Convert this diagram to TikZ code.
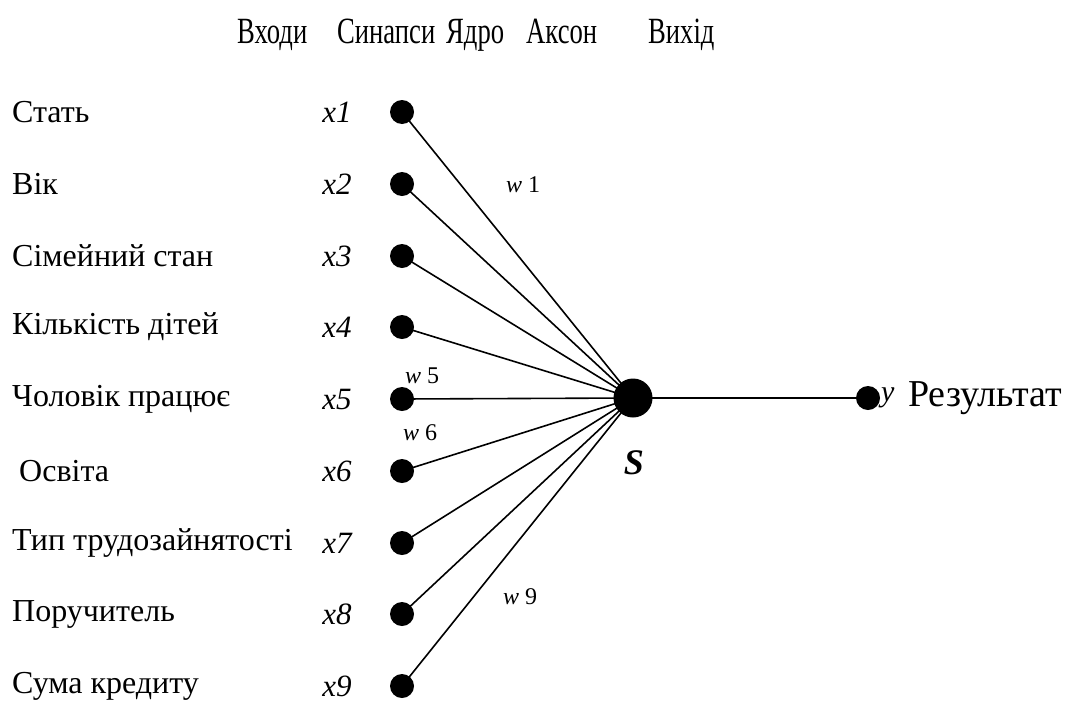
\documentclass[tikz,border=0pt]{standalone}
\usepackage{fontspec}
\setmainfont{Liberation Serif}
\newfontfamily\hdrfont[FakeStretch=0.72]{Liberation Serif}
\begin{document}
\begin{tikzpicture}[x=1pt,y=-1pt,
  dot/.style={circle,fill=black,inner sep=0pt,minimum size=24pt},
  bigdot/.style={circle,fill=black,inner sep=0pt,minimum size=39pt},
  conn/.style={line width=1.6pt},
  lbl/.style={anchor=west,inner sep=0pt,font=\fontsize{32}{36}\selectfont},
  hdr/.style={anchor=base west,inner sep=0pt,font=\hdrfont\fontsize{37}{40}\selectfont},
  xl/.style={inner sep=0pt,font=\fontsize{31}{33}\selectfont\itshape},
  wl/.style={inner sep=0pt,font=\fontsize{24}{26}\selectfont}]
\useasboundingbox (0,0) rectangle (1083,715);
% headers
\node[hdr] (h1) at (237,43) {Входи};
\node[hdr] (h2) at (337,43) {Синапси};
\node[hdr] (h3) at (446,43) {Ядро};
\node[hdr] (h4) at (526,43) {Аксон};
\node[hdr] (h5) at (648,43) {Вихід};
% core
\node[bigdot] (S) at (633,398) {};
\node[dot] (y) at (868,398) {};
\draw[conn] (S.center) -- (y.center);
% inputs
\foreach \i/\yy/\txt/\lx in {1/112/Стать/12, 2/184/Вік/12, 3/256/Сімейний стан/12, 4/327/Кількість дітей/12, 5/399/Чоловік працює/12, 6/471/Освіта/19, 7/543/Тип трудозайнятості/12, 8/614/Поручитель/12, 9/686/Сума кредиту/12}{
  \node[dot] (d\i) at (402,\yy) {};
  \draw[conn] (d\i.center) -- (S.center);
  \node[lbl] (t\i) at (\lx,\yy) {\txt};
  \node[xl] (x\i) at (337,\yy) {x\i};
}
\node[wl] (w1) at (523,185) {\textit{w} 1};
\node[wl] (w5) at (422,376) {\textit{w} 5};
\node[wl] (w6) at (420,433) {\textit{w} 6};
\node[wl] (w9) at (520,597) {\textit{w} 9};
\node[inner sep=0pt,font=\fontsize{36}{38}\selectfont\bfseries\itshape] (Sl) at (634,463) {S};
\node[inner sep=0pt,font=\fontsize{30}{32}\selectfont\itshape,anchor=west] (yl) at (881,398) {y};
\node[lbl,font=\fontsize{38}{40}\selectfont] (res) at (908,398) {Результат};
\end{tikzpicture}
\end{document}
